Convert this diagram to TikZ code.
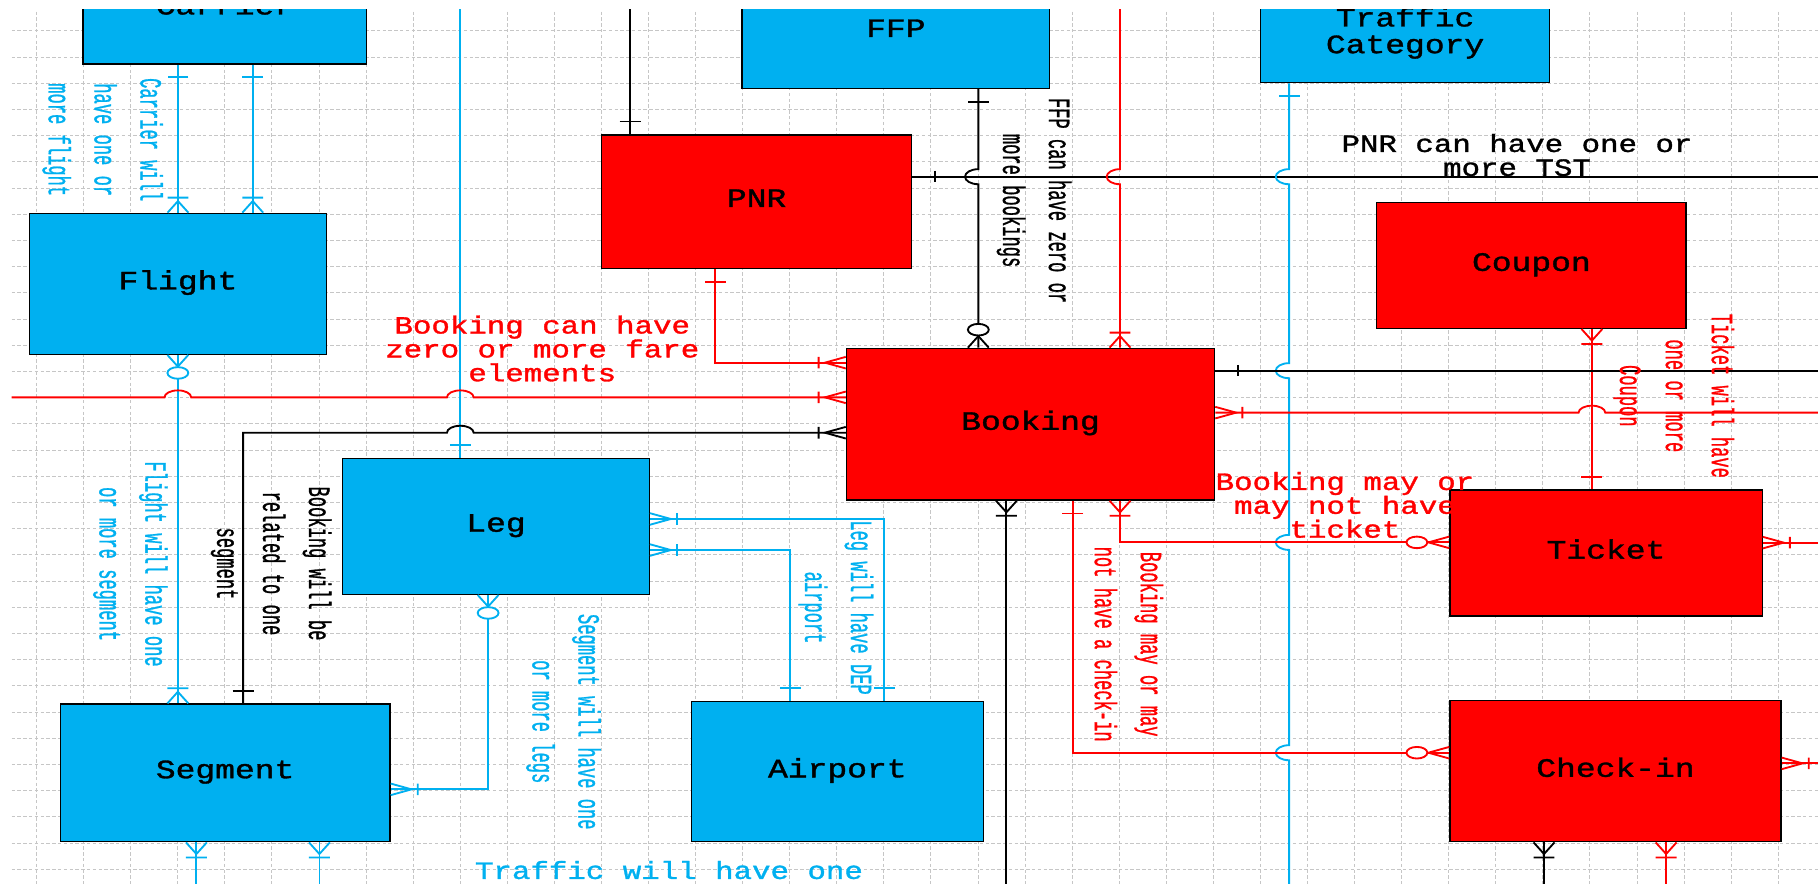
\documentclass[tikz,border=0pt]{standalone}
\usepackage{fontspec}
\usepackage{graphicx}
\usetikzlibrary{positioning}
\newfontfamily\ermono[FakeBold=1.2]{Liberation Mono}
\newfontfamily\ermonov[FakeBold=1.3]{Liberation Mono}
\definecolor{erblue}{RGB}{0,176,240}
\definecolor{erred}{RGB}{255,0,0}
\newcommand{\boxtxt}[1]{\scalebox{1.8}[1.45]{\begin{tabular}{@{}c@{}}#1\end{tabular}}}
% jumps over crossing lines
\newcommand{\hopx}[2]{-- ({#1-11.5},#2) arc[start angle=180,end angle=360,x radius=11.5,y radius=6]}
\newcommand{\hopy}[2]{-- (#1,{#2-6.5}) arc[start angle=-90,end angle=-270,x radius=11.5,y radius=6.5]}
\tikzset{
  erone/.pic={\draw (11,-5) -- (11,5);},
  eronemany/.pic={\draw (0,-5) -- (10,0) -- (0,5) (13,-5) -- (13,5);},
  erzeromany/.pic={\draw (0,-5) -- (10,0) -- (0,5); \draw[fill=white] (15.5,0) circle[radius=5];}
}

\begin{document}
\begin{tikzpicture}[x=1pt, y=-1pt,
    gridln/.style={gray!45, line width=0.6pt, dash pattern=on 3pt off 2pt},
    ent/.style={draw=black, line width=1.1pt, inner sep=0pt, font=\ermono\fontsize{15.8}{15.9}\selectfont},
    bent/.style={ent, fill=erblue},
    rent/.style={ent, fill=erred},
    bl/.style={erblue, line width=1.6pt},
    rd/.style={erred, line width=1.6pt},
    bk/.style={black, line width=1.6pt},
    hlbl/.style={font=\ermono\fontsize{14.75}{14.2}\selectfont, align=center, inner sep=0pt, xscale=1.8, yscale=1.45},
    vlbl/.style={font=\ermonov\fontsize{14.75}{22}\selectfont, align=center, inner sep=0pt, xscale=1.8, rotate=-90},
    toN/.style={xscale=1.8, rotate=90},
    toS/.style={xscale=1.8, rotate=-90},
    toE/.style={xscale=1.8},
    toW/.style={xscale=1.8, rotate=180}]
  \useasboundingbox (0,0) rectangle (1568,762);
  \clip (10,8) rectangle (1568,762);
  \coordinate (topEdge) at (0,0);
  \coordinate (botEdge) at (0,770);
  \coordinate (lEdge) at (0,0);
  \coordinate (rEdge) at (1575,0);

  % grid
  \foreach \k in {0,...,37}
    \draw[gridln] ({31.4+40.6*\k},0) -- ({31.4+40.6*\k},770);
  \foreach \k in {0,...,32}
    \draw[gridln] (0,{26.5+22.6*\k}) -- (1570,{26.5+22.6*\k});

  % entities
  \node[bent, minimum width=244.8, minimum height=95.2] (carrier) at (194,7.6) {\boxtxt{Carrier}};
  \node[bent, minimum width=265.3, minimum height=97.8] (ffp) at (772.65,27.3) {\boxtxt{FFP}};
  \node[bent, minimum width=249.7, minimum height=83.6] (traffic) at (1211.85,29.5) {\boxtxt{Traffic\\Category}};
  \node[rent, minimum width=267, minimum height=115] (pnr) at (652.5,173.9) {\boxtxt{PNR}};
  \node[bent, minimum width=255.7, minimum height=121.6] (flight) at (153.45,244.8) {\boxtxt{Flight}};
  \node[rent, minimum width=266.8, minimum height=108.4] (coupon) at (1320.8,229) {\boxtxt{Coupon}};
  \node[rent, minimum width=317.6, minimum height=130.9] (booking) at (888.8,365.85) {\boxtxt{Booking}};
  \node[bent, minimum width=264.4, minimum height=117.3] (leg) at (427.8,453.95) {\boxtxt{Leg}};
  \node[bent, minimum width=284.5, minimum height=118.8] (segment) at (194.15,666.6) {\boxtxt{Segment}};
  \node[bent, minimum width=251.6, minimum height=120.8] (airport) at (722.2,665.6) {\boxtxt{Airport}};
  \node[rent, minimum width=269.3, minimum height=108.7] (ticket) at (1385.15,476.95) {\boxtxt{Ticket}};
  \node[rent, minimum width=285.6, minimum height=121.7] (checkin) at (1393.3,665.15) {\boxtxt{Check-in}};

  % Carrier -- Flight
  \foreach \cx in {153.5,218} {
    \draw[bl] (carrier.south -| \cx,0) -- (flight.north -| \cx,0);
    \pic[bl,toS] at (carrier.south -| \cx,0) {erone};
    \pic[bl,toN] at (flight.north -| \cx,0) {eronemany};
  }

  % into Leg from above
  \draw[bl] (topEdge -| 397,0) -- (leg.north -| 397,0);
  \pic[bl,toN] at (leg.north -| 397,0) {erone};

  % Flight -- Segment
  \draw[bl] (flight.south -| 153.4,0) -- (segment.north -| 153.4,0);
  \pic[bl,toS] at (flight.south -| 153.4,0) {erzeromany};
  \pic[bl,toN] at (segment.north -| 153.4,0) {eronemany};

  % PNR -- Booking
  \draw[rd] (pnr.south -| 617,0) |- (booking.west |- 0,312.8);
  \pic[rd,toS] at (pnr.south -| 617,0) {erone};
  \pic[rd,toW] at (booking.west |- 0,312.8) {eronemany};

  % fare elements
  \draw[rd] (lEdge |- 0,342.7) \hopx{153.4}{342.7} \hopx{397}{342.7} -- (booking.west |- 0,342.7);
  \pic[rd,toW] at (booking.west |- 0,342.7) {eronemany};

  % Segment -- Booking
  \draw[bk] (segment.north -| 209.7,0) -- (209.7,373.2) \hopx{397}{373.2} -- (booking.west |- 0,373.2);
  \pic[bk,toN] at (segment.north -| 209.7,0) {erone};
  \pic[bk,toW] at (booking.west |- 0,373.2) {eronemany};

  % into PNR from above
  \draw[bk] (topEdge -| 543.5,0) -- (pnr.north -| 543.5,0);
  \pic[bk,toN] at (pnr.north -| 543.5,0) {erone};

  % FFP -- Booking
  \draw[bk] (ffp.south -| 843.8,0) \hopy{843.8}{152.4} -- (booking.north -| 843.8,0);
  \pic[bk,toS] at (ffp.south -| 843.8,0) {erone};
  \pic[bk,toN] at (booking.north -| 843.8,0) {erzeromany};

  % PNR -- TST
  \draw[bk] (pnr.east |- 0,152.4) -- (rEdge |- 0,152.4);
  \pic[bk,toE] at (pnr.east |- 0,152.4) {erone};

  % into Booking from above
  \draw[rd] (topEdge -| 966,0) \hopy{966}{152.4} -- (booking.north -| 966,0);
  \pic[rd,toN] at (booking.north -| 966,0) {eronemany};

  % Traffic Category
  \draw[bl] (traffic.south -| 1111.8,0) \hopy{1111.8}{152.4} \hopy{1111.8}{319.7}
    \hopy{1111.8}{467.8} \hopy{1111.8}{649.2} -- (botEdge -| 1111.8,0);
  \pic[bl,toS] at (traffic.south -| 1111.8,0) {erone};

  % Coupon -- Ticket
  \draw[rd] (coupon.south -| 1373,0) -- (ticket.north -| 1373,0);
  \pic[rd,toS] at (coupon.south -| 1373,0) {eronemany};
  \pic[rd,toN] at (ticket.north -| 1373,0) {erone};

  % Booking, right side
  \draw[bk] (booking.east |- 0,319.7) -- (rEdge |- 0,319.7);
  \pic[bk,toE] at (booking.east |- 0,319.7) {erone};
  \draw[rd] (booking.east |- 0,355.9) \hopx{1373}{355.9} -- (rEdge |- 0,355.9);
  \pic[rd,toE] at (booking.east |- 0,355.9) {eronemany};

  % Booking -- Ticket
  \draw[rd] (booking.south -| 966,0) |- (ticket.west |- 0,467.8);
  \pic[rd,toS] at (booking.south -| 966,0) {eronemany};
  \pic[rd,toW] at (ticket.west |- 0,467.8) {erzeromany};

  % Booking -- Check-in
  \draw[rd] (booking.south -| 925.2,0) |- (checkin.west |- 0,649.2);
  \pic[rd,toS] at (booking.south -| 925.2,0) {erone};
  \pic[rd,toW] at (checkin.west |- 0,649.2) {erzeromany};

  % Booking, bottom
  \draw[bk] (booking.south -| 868,0) -- (botEdge -| 868,0);
  \pic[bk,toS] at (booking.south -| 868,0) {eronemany};

  % Ticket and Check-in, outgoing
  \draw[rd] (ticket.east |- 0,468) -- (rEdge |- 0,468);
  \pic[rd,toE] at (ticket.east |- 0,468) {eronemany};
  \draw[rd] (checkin.east |- 0,658.4) -- (rEdge |- 0,658.4);
  \pic[rd,toE] at (checkin.east |- 0,658.4) {eronemany};
  \draw[bk] (checkin.south -| 1331.7,0) -- (botEdge -| 1331.7,0);
  \pic[bk,toS] at (checkin.south -| 1331.7,0) {eronemany};
  \draw[rd] (checkin.south -| 1437,0) -- (botEdge -| 1437,0);
  \pic[rd,toS] at (checkin.south -| 1437,0) {eronemany};

  % Segment, bottom
  \foreach \sx in {169.4,275.5} {
    \draw[bl] (segment.south -| \sx,0) -- (botEdge -| \sx,0);
    \pic[bl,toS] at (segment.south -| \sx,0) {eronemany};
  }

  % Leg -- Segment
  \draw[bl] (leg.south -| 421,0) |- (segment.east |- 0,680.8);
  \pic[bl,toS] at (leg.south -| 421,0) {erzeromany};
  \pic[bl,toE] at (segment.east |- 0,680.8) {eronemany};

  % Leg -- Airport
  \draw[bl] (leg.east |- 0,447.6) -| (airport.north -| 762.7,0);
  \pic[bl,toE] at (leg.east |- 0,447.6) {eronemany};
  \pic[bl,toN] at (airport.north -| 762.7,0) {erone};
  \draw[bl] (leg.east |- 0,474.4) -| (airport.north -| 681.6,0);
  \pic[bl,toE] at (leg.east |- 0,474.4) {eronemany};
  \pic[bl,toN] at (airport.north -| 681.6,0) {erone};

  % labels
  \node[vlbl, text=erblue] (lblCarrier) at (88.5,120.5) {Carrier will\\have one or\\more flight};
  \node[vlbl, text=erblue] (lblFlight) at (112.5,486.5) {Flight will have one\\or more segment};
  \node[vlbl] (lblSeg) at (233.8,486) {Booking will be\\related to one\\segment};
  \node[vlbl, text=erblue] (lblLegs) at (486,622.5) {Segment will have one\\or more legs};
  \node[vlbl, text=erblue] (lblDep) at (721,524) {Leg will have DEP\\airport};
  \node[vlbl, text=erred] (lblCheck) at (973.6,555.6) {Booking may or may\\not have a check-in};
  \node[vlbl] (lblFfp) at (891.8,173) {FFP can have zero or\\more bookings};
  \node[vlbl, text=erred] (lblCoupon) at (1443.7,341.4) {Ticket will have\\one or more\\Coupon};
  \node[hlbl, text=erred] (lblFare) at (467.7,300.6) {Booking can have\\zero or more fare\\elements};
  \node[hlbl] (lblTst) at (1308.4,133.7) {PNR can have one or\\more TST};
  \node[hlbl, text=erred] (lblTicket) at (1160,435.5) {Booking may or\\may not have\\ticket};
  \node[hlbl, text=erblue] (lblTraffic) at (577,750.4) {Traffic will have one};
\end{tikzpicture}
\end{document}
